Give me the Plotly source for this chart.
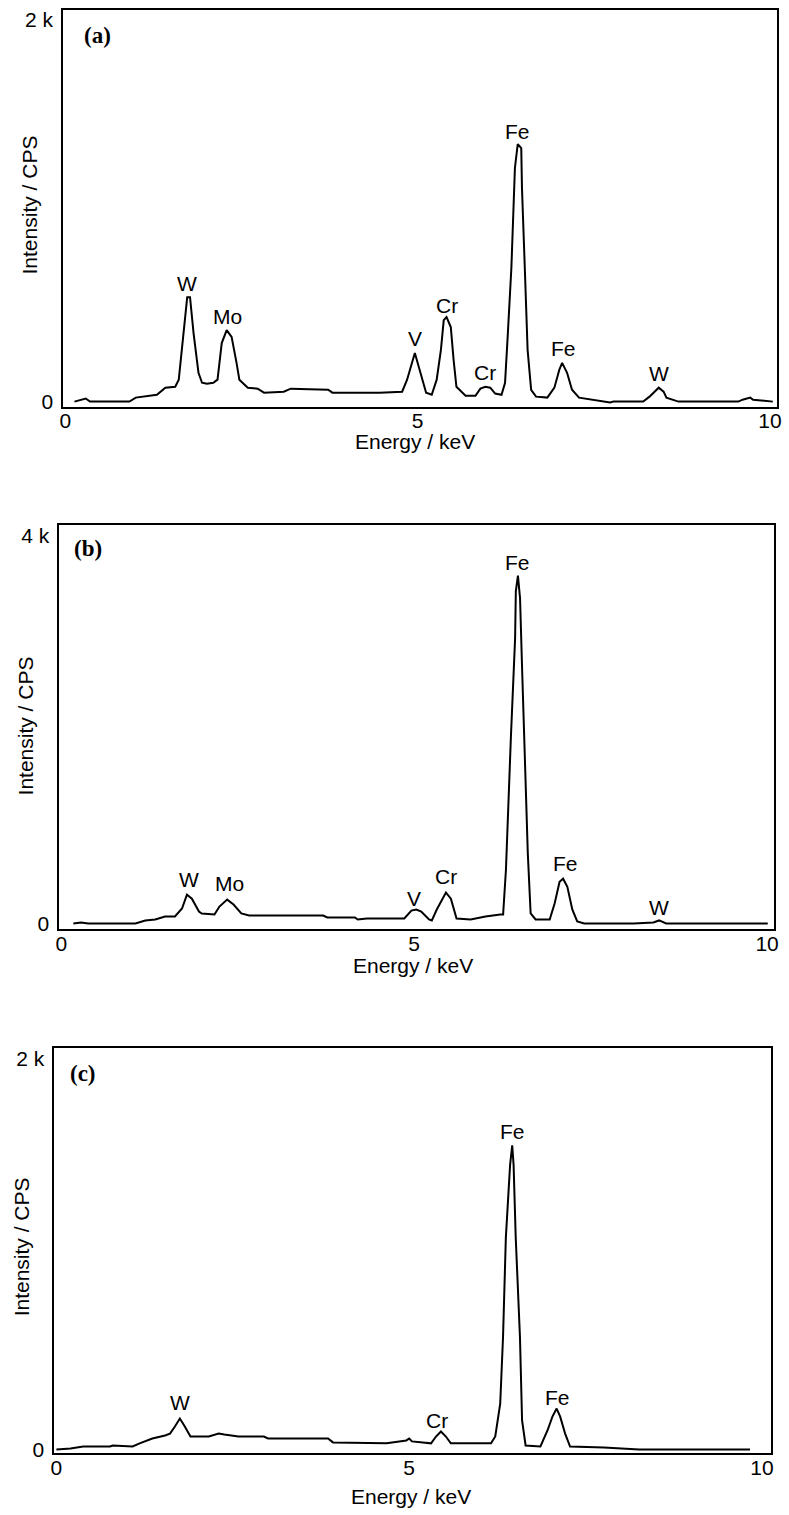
import plotly.graph_objects as go

# ---------------- data ----------------
# Panel (a)
energy_a = [0.13, 0.29, 0.35, 0.91, 1.00, 1.19, 1.30, 1.42, 1.56, 1.61, 1.68, 1.73, 1.77, 1.82,
            1.89, 1.94, 2.01, 2.10, 2.16, 2.22, 2.29, 2.36, 2.43, 2.47, 2.59, 2.73, 2.82, 3.10,
            3.20, 3.73, 3.79, 4.04, 4.46, 4.78, 4.85, 4.96, 5.02, 5.12, 5.20, 5.27, 5.33, 5.37,
            5.41, 5.47, 5.51, 5.55, 5.68, 5.82, 5.89, 5.96, 6.03, 6.10, 6.19, 6.24, 6.28, 6.33,
            6.38, 6.40, 6.42, 6.47, 6.48, 6.52, 6.56, 6.61, 6.68, 6.84, 6.94, 7.01, 7.05, 7.12,
            7.19, 7.29, 7.69, 7.73, 7.78, 8.20, 8.29, 8.42, 8.49, 8.53, 8.70, 9.55, 9.61, 9.72,
            9.76, 10.04]
counts_a = [0, 16, 0, 0, 21, 31, 36, 73, 78, 115, 359, 547, 547, 359,
            151, 99, 94, 99, 115, 307, 375, 339, 203, 115, 73, 68, 47, 52,
            68, 62, 47, 47, 47, 52, 115, 255, 182, 47, 36, 115, 271, 427,
            443, 391, 219, 78, 31, 31, 68, 78, 73, 42, 36, 99, 359, 703,
            1224, 1276, 1349, 1328, 1120, 703, 271, 62, 26, 21, 73, 167, 203, 151,
            62, 21, 0, -5, 0, 0, 26, 73, 52, 21, 0, 0, 10, 21,
            10, 0]

# Panel (b)
energy_b = [0.17, 0.28, 0.38, 1.05, 1.19, 1.33, 1.47, 1.61, 1.71, 1.78, 1.85, 1.95, 1.99, 2.17,
            2.24, 2.35, 2.44, 2.55, 2.66, 3.71, 3.77, 4.16, 4.20, 4.33, 4.86, 4.96, 5.03, 5.10,
            5.21, 5.25, 5.32, 5.45, 5.52, 5.60, 5.80, 6.01, 6.22, 6.26, 6.30, 6.34, 6.37, 6.43,
            6.44, 6.47, 6.50, 6.53, 6.57, 6.61, 6.65, 6.72, 6.92, 6.99, 7.06, 7.11, 7.17, 7.24,
            7.31, 7.41, 8.11, 8.39, 8.47, 8.57, 8.71, 10.01]
counts_b = [0, 10, 0, 0, 31, 41, 72, 72, 154, 297, 256, 123, 103, 92,
            174, 246, 195, 103, 82, 82, 62, 62, 41, 51, 51, 133, 144, 123,
            41, 31, 144, 318, 256, 51, 41, 72, 92, 92, 554, 1231, 1918, 2944,
            3426, 3590, 3354, 2605, 1579, 718, 103, 41, 41, 205, 431, 462, 379, 144,
            21, 0, 0, 10, 31, 0, 0, 0]

# Panel (c)
energy_c = [0.00, 0.20, 0.38, 0.76, 0.80, 1.08, 1.18, 1.36, 1.54, 1.61, 1.68, 1.75, 1.82, 1.90,
            2.16, 2.20, 2.30, 2.38, 2.58, 2.94, 3.00, 3.85, 3.92, 4.68, 4.86, 4.96, 5.00, 5.04,
            5.31, 5.38, 5.45, 5.52, 5.59, 6.16, 6.22, 6.29, 6.33, 6.37, 6.43, 6.46, 6.48, 6.51,
            6.57, 6.60, 6.65, 6.86, 6.96, 7.03, 7.09, 7.14, 7.21, 7.28, 7.76, 8.26, 9.83]
counts_c = [0, 5, 15, 15, 20, 15, 31, 56, 71, 81, 117, 158, 117, 66,
            66, 71, 81, 76, 66, 66, 56, 56, 36, 31, 41, 46, 56, 41,
            31, 66, 92, 66, 31, 31, 66, 234, 575, 1084, 1455, 1557, 1455, 1084,
            575, 148, 20, 15, 97, 168, 209, 168, 81, 15, 10, 0, 0]

# Peak labels (element names)
labels_a = ["W", "Mo", "V", "Cr", "Cr", "Fe", "Fe", "W"]
labels_b = ["W", "Mo", "V", "Cr", "Fe", "Fe", "W"]
labels_c = ["W", "Cr", "Fe", "Fe"]

panel_tags = ["(a)", "(b)", "(c)"]
x_tick_vals = [0, 5, 10]
x_tick_text = ["0", "5", "10"]
y_tick_vals_a = [0, 2000]
y_tick_text_a = ["0", "2 k"]
y_tick_vals_b = [0, 4000]
y_tick_text_b = ["0", "4 k"]
y_tick_vals_c = [0, 2000]
y_tick_text_c = ["0", "2 k"]
x_title = "Energy / keV"
y_title = "Intensity / CPS"

# ---------------- styling / placement ----------------
W, H = 789, 1515
FONT = "Liberation Sans, Arial, Helvetica, sans-serif"
SERIF = "Liberation Serif, Times New Roman, serif"
FS = 21

# label anchor points (energy, counts) for each element label
label_pos_a = [(1.73, 620), (2.30, 448), (4.96, 333), (5.41, 505), (5.96, 151),
               (6.41, 1417), (7.07, 276), (8.43, 146)]
label_pos_b = [(1.81, 451), (2.38, 410), (5.00, 256), (5.45, 482), (6.46, 3723),
               (7.14, 615), (8.47, 164)]
label_pos_c = [(1.75, 239), (5.39, 148), (6.47, 1628), (7.10, 265)]

panels = [
    dict(x=energy_a, y=counts_a, labels=labels_a, lpos=label_pos_a,
         xdom=[60 / W, 782 / W], ydom=[1 - 407 / H, 1 - 8 / H],
         xr=[-0.028, 10.10], yr=[-26, 2052],
         yt=(y_tick_vals_a, y_tick_text_a),
         tag=(95, 34), xt=(416, 442), ytl=(26, 204)),
    dict(x=energy_b, y=counts_b, labels=labels_b, lpos=label_pos_b,
         xdom=[56 / W, 779 / W], ydom=[1 - 933 / H, 1 - 526 / H],
         xr=[-0.028, 10.10], yr=[-62, 4113],
         yt=(y_tick_vals_b, y_tick_text_b),
         tag=(85, 550), xt=(414, 969), ytl=(22, 728)),
    dict(x=energy_c, y=counts_c, labels=labels_c, lpos=label_pos_c,
         xdom=[51 / W, 776 / W], ydom=[1 - 1460 / H, 1 - 1052 / H],
         xr=[-0.028, 10.13], yr=[-20, 2056],
         yt=(y_tick_vals_c, y_tick_text_c),
         tag=(80, 1078), xt=(412, 1503), ytl=(18, 1252)),
]

fig = go.Figure()
annotations = []
layout_axes = {}
for i, p in enumerate(panels):
    n = i + 1
    xa = "x" if n == 1 else f"x{n}"
    ya = "y" if n == 1 else f"y{n}"
    fig.add_trace(go.Scatter(x=p["x"], y=p["y"], mode="lines", xaxis=xa, yaxis=ya,
                             line=dict(color="black", width=2), showlegend=False,
                             hoverinfo="skip"))
    xkey = "xaxis" if n == 1 else f"xaxis{n}"
    ykey = "yaxis" if n == 1 else f"yaxis{n}"
    layout_axes[xkey] = dict(domain=p["xdom"], range=p["xr"], anchor=ya,
                             tickvals=x_tick_vals, ticktext=x_tick_text,
                             showgrid=False, zeroline=False, ticks="",
                             showline=True, mirror=True, linecolor="black", linewidth=2,
                             ticklabelstandoff=-6,
                             tickfont=dict(family=FONT, size=FS, color="black"))
    layout_axes[ykey] = dict(domain=p["ydom"], range=p["yr"], anchor=xa,
                             tickvals=p["yt"][0], ticktext=p["yt"][1],
                             showgrid=False, zeroline=False, ticks="",
                             showline=True, mirror=True, linecolor="black", linewidth=2,
                             ticklabelstandoff=4,
                             tickfont=dict(family=FONT, size=FS, color="black"))
    for txt, (ex, ey) in zip(p["labels"], p["lpos"]):
        annotations.append(dict(x=ex, y=ey, xref=xa, yref=ya, text=txt, showarrow=False,
                                font=dict(family=FONT, size=FS, color="black"),
                                xanchor="center", yanchor="middle"))
    annotations.append(dict(x=p["tag"][0] / W, y=1 - p["tag"][1] / H, xref="paper", yref="paper",
                            text=f"<b>{panel_tags[i]}</b>", showarrow=False,
                            font=dict(family=SERIF, size=23, color="black"),
                            xanchor="center", yanchor="middle"))
    annotations.append(dict(x=p["xt"][0] / W, y=1 - p["xt"][1] / H, xref="paper", yref="paper",
                            text=x_title, showarrow=False,
                            font=dict(family=FONT, size=FS, color="black"),
                            xanchor="center", yanchor="middle"))
    annotations.append(dict(x=p["ytl"][0] / W, y=1 - p["ytl"][1] / H, xref="paper", yref="paper",
                            text=y_title, showarrow=False, textangle=-90,
                            font=dict(family=FONT, size=FS, color="black"),
                            xanchor="center", yanchor="middle"))

fig.update_layout(width=W, height=H, autosize=False,
                  margin=dict(l=0, r=0, t=0, b=0),
                  paper_bgcolor="white", plot_bgcolor="white",
                  annotations=annotations, **layout_axes)

fig.write_html("out.html", config={"displayModeBar": False},
               post_script="document.body.style.margin='0';document.body.style.overflow='hidden';")
